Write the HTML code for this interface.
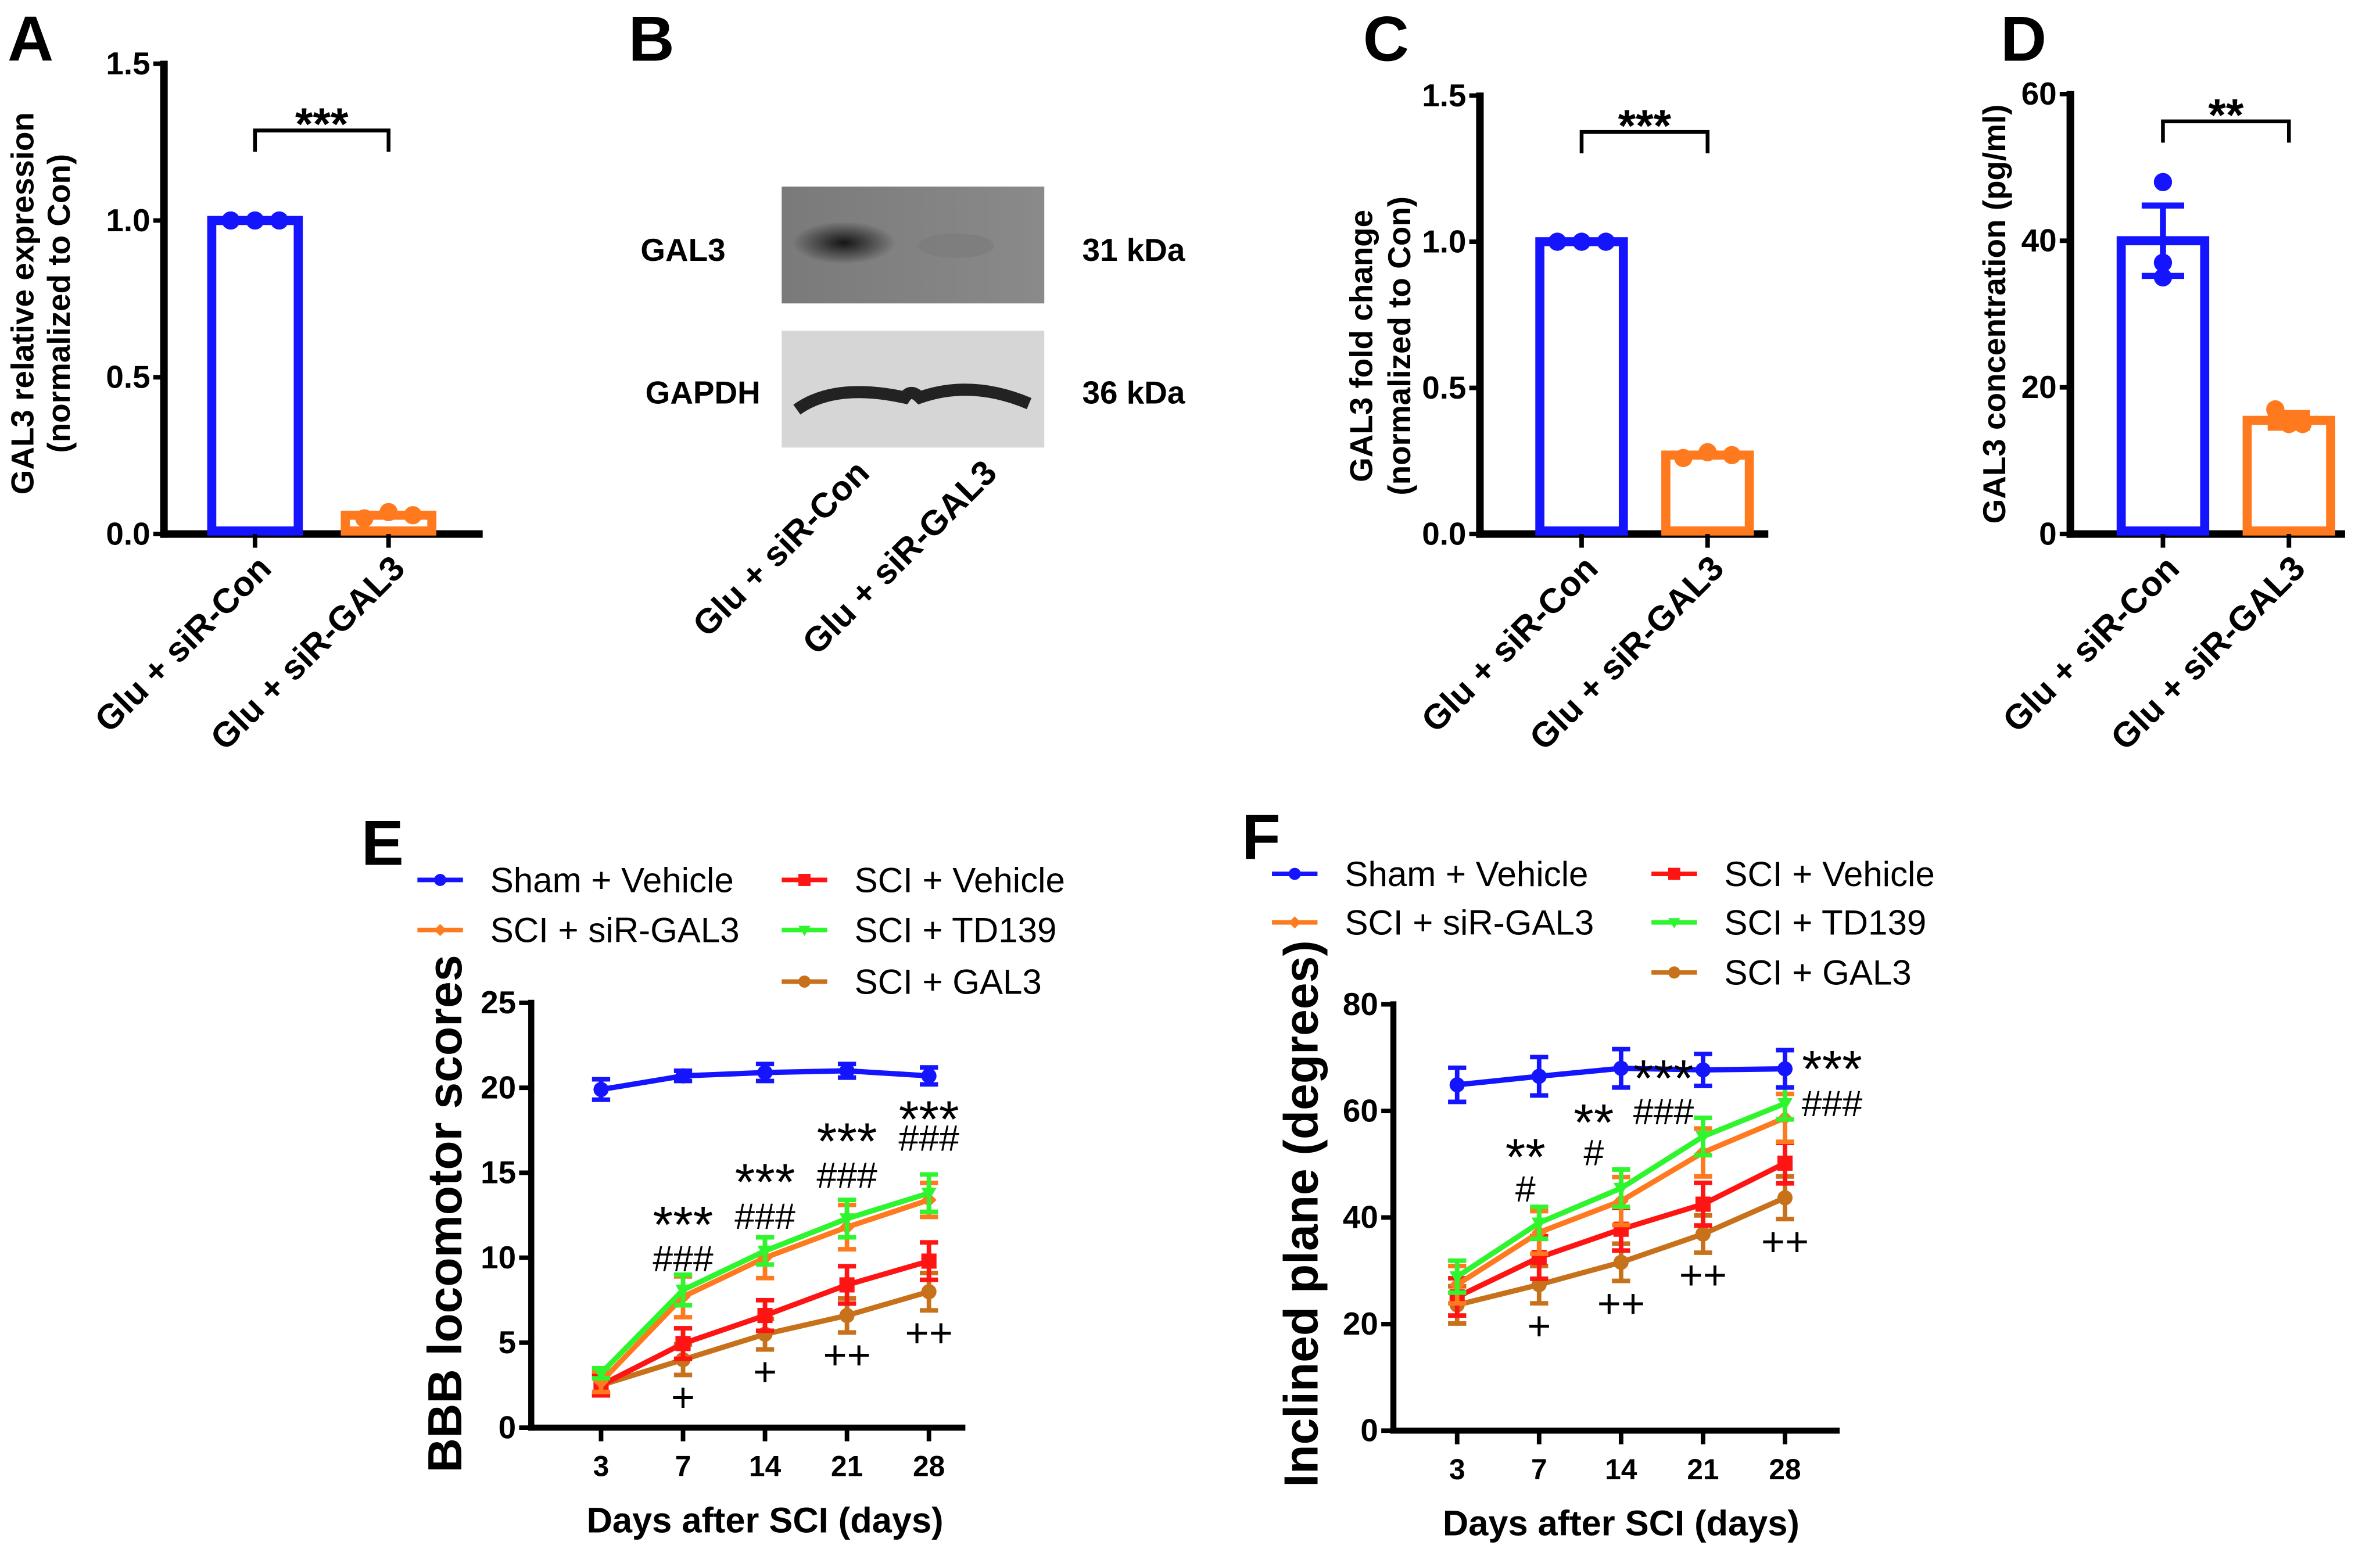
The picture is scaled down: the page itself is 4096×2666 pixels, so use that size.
<!DOCTYPE html>
<html><head><meta charset="utf-8"><style>
html,body{margin:0;padding:0;background:#fff;}
svg{display:block;font-family:"Liberation Sans",Arial,sans-serif;}
</style></head><body>
<svg id="fig" width="4096" height="2666" viewBox="0 0 1568 1021" preserveAspectRatio="none" xmlns="http://www.w3.org/2000/svg">
<defs>
<linearGradient id="blot1" x1="0" x2="1"><stop offset="0" stop-color="#7a7a7a"/><stop offset="1" stop-color="#8a8a8a"/></linearGradient>
<radialGradient id="band1" cx="0.5" cy="0.5" r="0.5"><stop offset="0" stop-color="#151515"/><stop offset="1" stop-color="#151515" stop-opacity="0"/></radialGradient>
</defs>
<g id="root"></g>
</svg>
<script>
// ---------- DATA ----------
const barCats = ["Glu + siR-Con", "Glu + siR-GAL3"];
const aValues = [1.0, 0.06];
const aDots = [[1.0, 1.0, 1.0], [0.05, 0.07, 0.06]];
const cValues = [1.0, 0.27];
const cDots = [[1.0, 1.0, 1.0], [0.26, 0.28, 0.27]];
const dValues = [40, 15.5];
const dErr = [4.8, 1.0];
const dDots = [[48, 37, 35], [17, 15, 15]];
const aTicks = ["0.0", "0.5", "1.0", "1.5"];
const dTicks = ["0", "20", "40", "60"];
const days = ["3", "7", "14", "21", "28"];
const seriesNames = ["Sham + Vehicle", "SCI + Vehicle", "SCI + siR-GAL3", "SCI + TD139", "SCI + GAL3"];
const eSham = [19.9, 20.7, 20.9, 21.0, 20.7];
const eVeh = [2.5, 4.95, 6.6, 8.4, 9.8];
const eSi = [2.7, 7.7, 10.0, 11.8, 13.4];
const eTD = [3.2, 8.1, 10.4, 12.3, 13.8];
const eGal = [2.5, 4.0, 5.5, 6.6, 8.0];
const eErrSham = [0.6, 0.3, 0.5, 0.4, 0.5];
const eErrVeh = [0.6, 0.9, 0.9, 1.1, 1.1];
const eErrSi = [0.6, 1.2, 1.2, 1.3, 1.0];
const eErrTD = [0.3, 0.9, 0.8, 1.1, 1.1];
const eErrGal = [0.6, 0.9, 0.9, 1.0, 1.1];
const eTicks = ["0", "5", "10", "15", "20", "25"];
const fSham = [64.9, 66.5, 68.0, 67.7, 67.9];
const fVeh = [25.1, 32.5, 37.8, 42.5, 50.2];
const fSi = [27.4, 37.2, 43.1, 52.2, 58.7];
const fTD = [28.9, 39.0, 45.5, 55.2, 61.4];
const fGal = [23.6, 27.4, 31.6, 36.9, 43.7];
const fErrSham = [3.2, 3.6, 3.6, 3.0, 3.5];
const fErrVeh = [3.5, 4.0, 4.0, 4.0, 3.8];
const fErrSi = [3.5, 4.0, 4.5, 4.5, 4.5];
const fErrTD = [3.0, 3.0, 3.5, 3.5, 3.0];
const fErrGal = [3.5, 3.5, 3.5, 3.5, 4.0];
const fTicks = ["0", "20", "40", "60", "80"];
const eStars = ["", "***", "***", "***", "***"];
const eHash = ["", "###", "###", "###", "###"];
const ePlus = ["", "+", "+", "++", "++"];
const fStars = ["", "**", "**", "***", "***"];
const fHash = ["", "#", "#", "###", "###"];
const fPlus = ["", "+", "++", "++", "++"];
// annotation heights in axis units
const eStarY = [0, 10.9, 13.4, 15.8, 17.1];
const eHashY = [0, 9.2, 11.7, 14.1, 16.3];
const fStarY = [0, 48.0, 54.5, 62.8, 64.5];
const fHashY = [0, 43.0, 49.8, 57.5, 59.0];

const NS = "http://www.w3.org/2000/svg";
const root = document.getElementById("root");
function mk(tag, attrs, parent, text) {
  const el = document.createElementNS(NS, tag);
  for (const k in attrs) el.setAttribute(k, attrs[k]);
  if (text !== undefined) el.textContent = text;
  (parent || root).appendChild(el);
  return el;
}
function grp(name, parent) {
  const g = mk("g", {}, parent);
  
  
  return g;
}
const BLUE = "#1414ff", ORANGE = "#ff7a1f", RED = "#ff1414", GREEN = "#2ef52e", BROWN = "#c8711b";

// ---------- panel letters ----------
[["A", 5, 40], ["B", 414, 40], ["C", 898, 40], ["D", 1318, 40], ["E", 238, 570], ["F", 818, 566]].forEach(p => {
  const t = mk("text", { x: p[1], y: p[2], "font-size": 42, "font-weight": "bold" }, root, p[0]);
  
  
});

// ---------- bar panels ----------
function barPanel(o) {
  const g = grp(o.name);
  const y = v => o.y0 - (v - o.min) / (o.max - o.min) * (o.y0 - o.yTop);
  mk("line", { x1: o.ax, y1: o.yTop - 2, x2: o.ax, y2: o.y0 + 2.5, stroke: "#000", "stroke-width": 5 }, g);
  mk("line", { x1: o.ax - 2.5, y1: o.y0, x2: o.axEnd, y2: o.y0, stroke: "#000", "stroke-width": 5 }, g);
  o.ticks.forEach((t, i) => {
    const yy = y(o.min + i * (o.max - o.min) / (o.ticks.length - 1));
    mk("line", { x1: o.ax - 7, y1: yy, x2: o.ax, y2: yy, stroke: "#000", "stroke-width": 3 }, g);
    const tl = mk("text", { x: o.ax - 9, y: yy + 7, "font-size": 21, "font-weight": "bold", "text-anchor": "end" }, g, t);
    
    
  });
  const cols = [BLUE, ORANGE];
  o.values.forEach((v, i) => {
    const cx = o.cx[i];
    const b = mk("rect", { x: cx - o.bw / 2, y: y(v), width: o.bw, height: o.y0 - y(v) - 2, fill: "none", stroke: cols[i], "stroke-width": 6 }, g);
    
    
    if (o.err) {
      mk("line", { x1: cx, y1: y(v - o.err[i]), x2: cx, y2: y(v + o.err[i]), stroke: cols[i], "stroke-width": 4 }, g);
      mk("line", { x1: cx - 14, y1: y(v + o.err[i]), x2: cx + 14, y2: y(v + o.err[i]), stroke: cols[i], "stroke-width": 4 }, g);
      mk("line", { x1: cx - 14, y1: y(v - o.err[i]), x2: cx + 14, y2: y(v - o.err[i]), stroke: cols[i], "stroke-width": 4 }, g);
    }
    o.dots[i].forEach((d, j) => {
      const dx = o.err ? (i === 1 ? (j - 1) * 9 : 0) : (j - 1) * 16;
      const c = mk("circle", { cx: cx + dx, cy: y(d), r: 6, fill: cols[i] }, g);
      
      
    });
    mk("line", { x1: cx, y1: o.y0, x2: cx, y2: o.y0 + 9, stroke: "#000", "stroke-width": 3 }, g);
    const xl = mk("text", { x: cx + 12, y: o.y0 + 24, "font-size": 23, "font-weight": "bold", "text-anchor": "end", transform: `rotate(-45 ${cx + 12} ${o.y0 + 24})` }, g, barCats[i]);
    
    
  });
  mk("path", { d: `M${o.cx[0]} ${o.brY + 14} V${o.brY} H${o.cx[1]} V${o.brY + 14}`, fill: "none", stroke: "#000", "stroke-width": 2.5 }, g);
  const s = mk("text", { x: (o.cx[0] + o.cx[1]) / 2, y: o.brY + 6, "font-size": 30, "font-weight": "bold", "text-anchor": "middle" }, g, o.sig);
  
  
  o.ylab.forEach((l, i) => {
    const xx = o.ylx[i];
    const t = mk("text", { x: xx, y: o.ylc, "font-size": o.ylfs, "font-weight": "bold", "text-anchor": "middle", transform: `rotate(-90 ${xx} ${o.ylc})` }, g, l);
    
    
  });
}
barPanel({ name: "panel-a-chart", ax: 108, axEnd: 318, y0: 352, yTop: 42, min: 0, max: 1.5, ticks: aTicks, values: aValues, dots: aDots, cx: [168, 256], bw: 57, brY: 86, sig: "***", ylab: ["GAL3 relative  expression", "(normalized to Con)"], ylx: [22, 46], ylc: 200, ylfs: 21 });
barPanel({ name: "panel-c-chart", ax: 975, axEnd: 1165, y0: 352, yTop: 63, min: 0, max: 1.5, ticks: aTicks, values: cValues, dots: cDots, cx: [1042, 1125], bw: 55, brY: 87, sig: "***", ylab: ["GAL3 fold change", "(normalized to Con)"], ylx: [904, 929], ylc: 228, ylfs: 21 });
barPanel({ name: "panel-d-chart", ax: 1364, axEnd: 1545, y0: 352, yTop: 62, min: 0, max: 60, ticks: dTicks, values: dValues, dots: dDots, err: dErr, cx: [1425, 1508], bw: 55, brY: 80, sig: "**", ylab: ["GAL3 concentration (pg/ml)"], ylx: [1321], ylc: 207, ylfs: 21 });

// ---------- panel B blot ----------
(function () {
  const g = grp("panel-b-western-blot");
  const r1 = mk("rect", { x: 515, y: 123, width: 173, height: 77, fill: "url(#blot1)" }, g);
  
  
  mk("ellipse", { cx: 556, cy: 160, rx: 34, ry: 14, fill: "url(#band1)" }, g);
  mk("ellipse", { cx: 630, cy: 162, rx: 25, ry: 8, fill: "#7a7a7a", opacity: 0.6 }, g);
  const r2 = mk("rect", { x: 515, y: 218, width: 173, height: 77, fill: "#d6d6d6" }, g);
  
  
  mk("path", { d: "M525 270 Q550 252 596 262 Q600 256 606 262 Q640 250 678 266", fill: "none", stroke: "#222", "stroke-width": 8 }, g);
  [["GAL3", 478, 172, "end"], ["GAPDH", 501, 266, "end"], ["31 kDa", 713, 172, "start"], ["36 kDa", 713, 266, "start"]].forEach(l => {
    const t = mk("text", { x: l[1], y: l[2], "font-size": 21, "font-weight": "bold", "text-anchor": l[3] }, g, l[0]);
    
    
  });
  [[574, 313], [658, 313]].forEach((p, i) => {
    const t = mk("text", { x: p[0], y: p[1], "font-size": 23, "font-weight": "bold", "text-anchor": "end", transform: `rotate(-45 ${p[0]} ${p[1]})` }, g, barCats[i]);
    
    
  });
})();

// ---------- line panels ----------
const markers = ["circle", "square", "diamond", "tri", "circle"];
const colors = [BLUE, RED, ORANGE, GREEN, BROWN];
function marker(g, type, x, y, col, s) {
  let el;
  if (type === "circle") el = mk("circle", { cx: x, cy: y, r: s, fill: col }, g);
  else if (type === "square") el = mk("rect", { x: x - s, y: y - s, width: 2 * s, height: 2 * s, fill: col }, g);
  else if (type === "diamond") el = mk("path", { d: `M${x} ${y - s} L${x + s} ${y} L${x} ${y + s} L${x - s} ${y}Z`, fill: col }, g);
  else el = mk("path", { d: `M${x - s} ${y - s * 0.7} L${x + s} ${y - s * 0.7} L${x} ${y + s}Z`, fill: col }, g);
  
  
}
function linePanel(o) {
  const g = grp(o.name);
  const y = v => o.y0 - v / o.max * (o.y0 - o.yTop);
  const x = i => o.xs0 + i * o.dx;
  mk("line", { x1: o.ax, y1: o.yTop - 2, x2: o.ax, y2: o.y0 + 2, stroke: "#000", "stroke-width": 4 }, g);
  mk("line", { x1: o.ax - 2, y1: o.y0, x2: o.axEnd, y2: o.y0, stroke: "#000", "stroke-width": 4 }, g);
  o.ticks.forEach((t, i) => {
    const yy = y(i * o.max / (o.ticks.length - 1));
    mk("line", { x1: o.ax - 8, y1: yy, x2: o.ax, y2: yy, stroke: "#000", "stroke-width": 3 }, g);
    const tl = mk("text", { x: o.ax - 10, y: yy + 7, "font-size": 21, "font-weight": "bold", "text-anchor": "end" }, g, t);
    
    
  });
  days.forEach((d, i) => {
    mk("line", { x1: x(i), y1: o.y0, x2: x(i), y2: o.y0 + 9, stroke: "#000", "stroke-width": 3 }, g);
    const tl = mk("text", { x: x(i), y: o.y0 + 32, "font-size": 19, "font-weight": "bold", "text-anchor": "middle" }, g, d);
    
    
  });
  const xt = mk("text", { x: (x(0) + x(4)) / 2, y: o.y0 + 69, "font-size": 23.5, "font-weight": "bold", "text-anchor": "middle" }, g, "Days after SCI (days)");
  
  
  const yt = mk("text", { x: o.ylx, y: o.ylc, "font-size": 31.5, "font-weight": "bold", "text-anchor": "middle", transform: `rotate(-90 ${o.ylx} ${o.ylc})` }, g, o.ytitle);
  
  
  [4, 1, 2, 3, 0].forEach(si => {
    const sg = grp('series-' + seriesNames[si].toLowerCase().replace(/[^a-z0-9]+/g, '-'), g);
    const vals = o.series[si], errs = o.errs[si], col = colors[si];
    mk("polyline", { points: vals.map((v, i) => x(i) + "," + y(v)).join(" "), fill: "none", stroke: col, "stroke-width": 3.5 }, sg);
    vals.forEach((v, i) => {
      const e = errs[i];
      mk("line", { x1: x(i), y1: y(v - e), x2: x(i), y2: y(v + e), stroke: col, "stroke-width": 3 }, sg);
      mk("line", { x1: x(i) - 6, y1: y(v + e), x2: x(i) + 6, y2: y(v + e), stroke: col, "stroke-width": 3 }, sg);
      mk("line", { x1: x(i) - 6, y1: y(v - e), x2: x(i) + 6, y2: y(v - e), stroke: col, "stroke-width": 3 }, sg);
      marker(sg, markers[si], x(i), y(v), col, 5);
    });
  });
  days.forEach((d, i) => {
    const ox = o.annDx[i];
    if (o.stars[i]) {
      const s = mk("text", { x: x(i) + ox, y: y(o.starY[i]), "font-size": 34, "text-anchor": "middle" }, g, o.stars[i]);
      
      
      const h = mk("text", { x: x(i) + ox, y: y(o.hashY[i]), "font-size": 24, "text-anchor": "middle" }, g, o.hash[i]);
      
      
    }
    if (o.plus[i]) {
      const bot = o.series[4][i] - o.errs[4][i];
      const p = mk("text", { x: x(i), y: y(bot) + 24, "font-size": 27, "text-anchor": "middle" }, g, o.plus[i]);
      
      
    }
  });
  const lg = grp('legend', g);
  o.legend.forEach(L => {
    const si = L[0], lx = L[1], ly = L[2];
    const eg = grp('legend-entry', lg);
    mk("line", { x1: lx, y1: ly, x2: lx + 30, y2: ly, stroke: colors[si], "stroke-width": 3 }, eg);
    marker(eg, markers[si], lx + 15, ly, colors[si], 4);
    mk("text", { x: lx + 48, y: ly + 8, "font-size": 23 }, eg, seriesNames[si]);
  });
}
linePanel({
  name: "panel-e-bbb-chart", ax: 350, axEnd: 636, y0: 941, yTop: 661, max: 25, ticks: eTicks, xs0: 396, dx: 54,
  series: [eSham, eVeh, eSi, eTD, eGal], errs: [eErrSham, eErrVeh, eErrSi, eErrTD, eErrGal],
  stars: eStars, hash: eHash, plus: ePlus, starY: eStarY, hashY: eHashY, annDx: [0, 0, 0, 0, 0],
  ytitle: "BBB locomotor scores", ylx: 304, ylc: 800,
  legend: [[0, 275, 580], [1, 515, 580], [2, 275, 613], [3, 515, 613], [4, 515, 647]]
});
linePanel({
  name: "panel-f-inclined-chart", ax: 918, axEnd: 1212, y0: 943, yTop: 662, max: 80, ticks: fTicks, xs0: 960, dx: 54,
  series: [fSham, fVeh, fSi, fTD, fGal], errs: [fErrSham, fErrVeh, fErrSi, fErrTD, fErrGal],
  stars: fStars, hash: fHash, plus: fPlus, starY: fStarY, hashY: fHashY, annDx: [0, -9, -18, -26, 31],
  ytitle: "Inclined plane (degrees)", ylx: 868, ylc: 800,
  legend: [[0, 838, 576], [1, 1088, 576], [2, 838, 608], [3, 1088, 608], [4, 1088, 641]]
});
</script>
</body></html>
